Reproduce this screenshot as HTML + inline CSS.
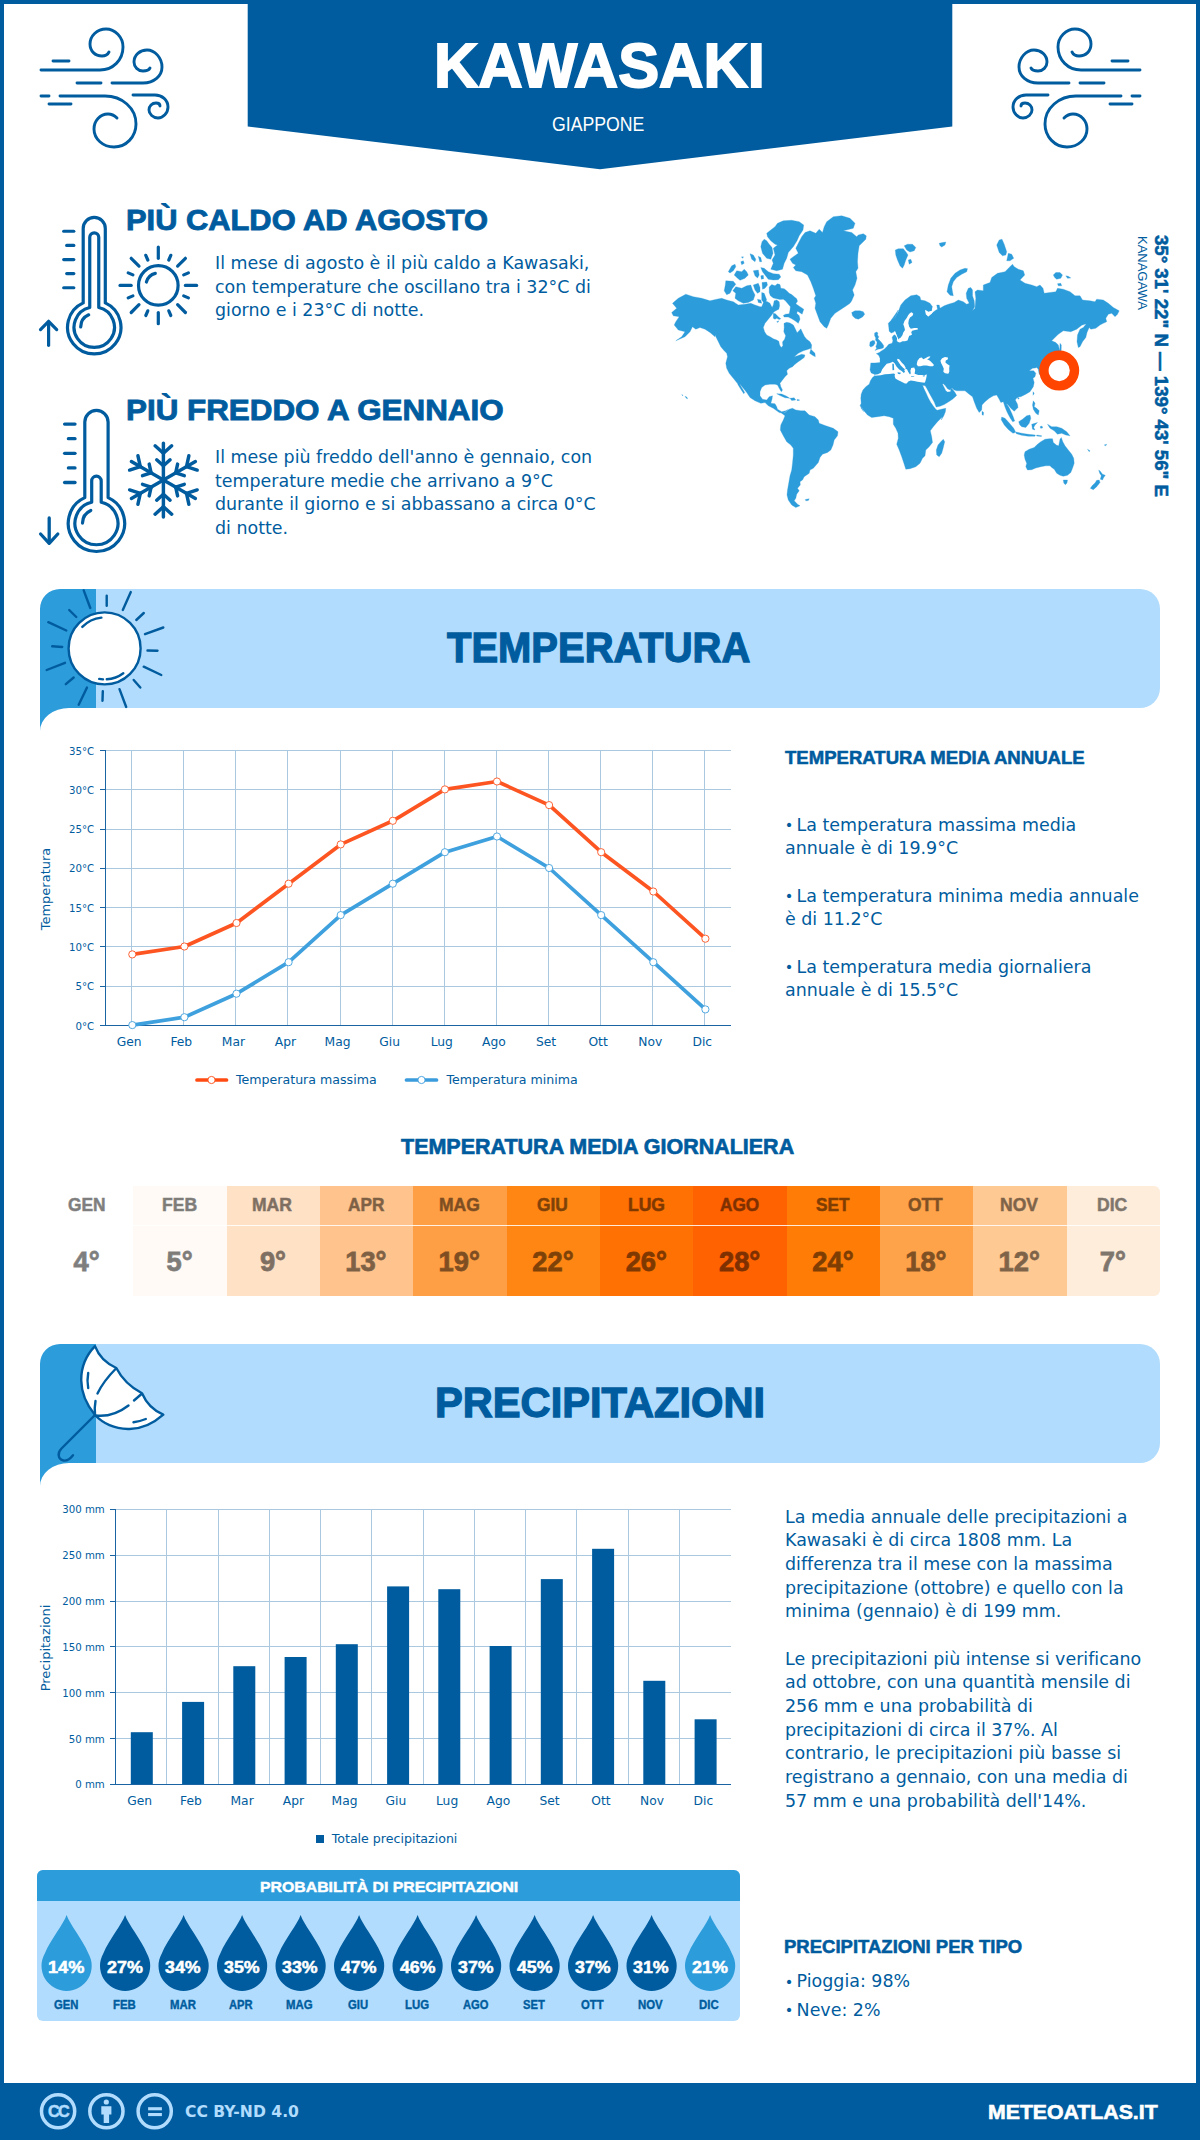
<!DOCTYPE html>
<html lang="it">
<head>
<meta charset="utf-8">
<title>Kawasaki - Meteo Atlas</title>
<style>
html,body{margin:0;padding:0;background:#fff;}
body{width:1200px;height:2140px;position:relative;overflow:hidden;font-family:"Liberation Sans","DejaVu Sans",sans-serif;color:#005c9e;}
#page{position:absolute;left:0;top:0;width:1200px;height:2140px;overflow:hidden;background:#fff;}
.abs{position:absolute;}
.bL{position:absolute;left:0;top:0;width:4px;height:2140px;background:#005c9e;}
.bR{position:absolute;left:1196px;top:0;width:4px;height:2140px;background:#005c9e;}
.bT{position:absolute;left:0;top:0;width:1200px;height:4px;background:#005c9e;}
.t{position:absolute;white-space:nowrap;line-height:1;}
.b{font-weight:bold;}
.body{position:absolute;white-space:nowrap;font-family:"DejaVu Sans","Liberation Sans",sans-serif;font-size:17.4px;line-height:23.67px;color:#005c9e;font-variant-ligatures:none;}
.h2{position:absolute;white-space:nowrap;font-weight:bold;line-height:1;color:#005c9e;}
.bu{display:inline-block;width:11.6px;font-size:14.5px;line-height:1;position:relative;top:-0.7px;left:-0.3px;}
svg{position:absolute;overflow:visible;}
.ax{font-family:"DejaVu Sans","Liberation Sans",sans-serif;fill:#005c9e;}
</style>
</head>
<body>
<div id="page">
<div class="bL"></div><div class="bR"></div><div class="bT"></div>

<svg class="abs" style="left:0;top:0" width="1200" height="180" viewBox="0 0 1200 180">
<polygon points="247.7,0 952.3,0 952.3,126.4 600,169.2 247.7,126.4" fill="#005c9e"/>
</svg>

<div class="t" id="title" style="left:434.09px;top:34.40px;font-size:63.03px;font-weight:bold;font-family:'Liberation Sans','DejaVu Sans',sans-serif;color:#fff;transform-origin:0 0;transform:scaleX(0.9742);-webkit-text-stroke:1.89px #fff;">KAWASAKI</div>
<div class="t" id="country" style="left:552.22px;top:115.12px;font-size:19.35px;font-weight:normal;font-family:'Liberation Sans','DejaVu Sans',sans-serif;color:#fff;transform-origin:0 0;transform:scaleX(0.9137);">GIAPPONE</div>

<svg class="abs" style="left:0;top:0" width="200" height="180" viewBox="0 0 200 180"><g fill="none" stroke="#005c9e" stroke-width="2.9" stroke-linecap="round" stroke-linejoin="round">
<path d="M41,70 H100 C113,70 123,60 123,47 C123,37 115,29 106,29 C97,29 90,36 90,44 C90,51 95,56 102,56 C105,56 108,54 109,52"/>
<path d="M53,61 H69"/>
<path d="M112,83 H143 C154,83 162,76 162,67 C162,58 155,50 147,50 C140,50 134,55 134,62 C134,67 138,71 143,71 C146,71 149,70 150,68"/>
<path d="M77,83 H101"/>
<path d="M60,96 H105 C122,96 136,108 136,124 C136,137 126,147 114,147 C103,147 94,139 94,129 C94,121 100,114 108,114 C112,114 115,116 117,118"/>
<path d="M41,96 H49"/>
<path d="M49,104 H71"/>
<path d="M133,95 H155 C162,95 168,100 168,107 C168,113 163,118 158,118 C153,118 149,114 149,110 C149,106 152,103 156,103 C158,103 160,104 160,106"/>
</g></svg>
<svg class="abs" style="left:0;top:0" width="1200" height="180" viewBox="0 0 1200 180"><g transform="translate(1181,0) scale(-1,1)"><g fill="none" stroke="#005c9e" stroke-width="2.9" stroke-linecap="round" stroke-linejoin="round">
<path d="M41,70 H100 C113,70 123,60 123,47 C123,37 115,29 106,29 C97,29 90,36 90,44 C90,51 95,56 102,56 C105,56 108,54 109,52"/>
<path d="M53,61 H69"/>
<path d="M112,83 H143 C154,83 162,76 162,67 C162,58 155,50 147,50 C140,50 134,55 134,62 C134,67 138,71 143,71 C146,71 149,70 150,68"/>
<path d="M77,83 H101"/>
<path d="M60,96 H105 C122,96 136,108 136,124 C136,137 126,147 114,147 C103,147 94,139 94,129 C94,121 100,114 108,114 C112,114 115,116 117,118"/>
<path d="M41,96 H49"/>
<path d="M49,104 H71"/>
<path d="M133,95 H155 C162,95 168,100 168,107 C168,113 163,118 158,118 C153,118 149,114 149,110 C149,106 152,103 156,103 C158,103 160,104 160,106"/>
</g></g></svg>
<svg class="abs" style="left:0;top:180px" width="640" height="400" viewBox="0 180 640 400"><g fill="none" stroke="#005c9e" stroke-width="3.2" stroke-linecap="round" stroke-linejoin="round"><path d="M83.20,302.9 V228.45 A11.05,11.05 0 0 1 105.30,228.45 V302.9 A26.7,26.7 0 1 1 83.20,302.9 Z"/><path d="M89.75,307.5 V237.30 A4.5,4.5 0 0 1 98.75,237.30 V307.5 A20.2,20.2 0 1 1 89.75,307.5 Z"/><path d="M80.7,327.0 A13.6,13.6 0 0 1 88.7,314.8"/></g><g stroke="#005c9e" stroke-width="3.2" stroke-linecap="round"><path d="M63.7,231.25 H73.8"/><path d="M66.7,245.4 H73.8"/><path d="M63.7,259.6 H73.8"/><path d="M66.7,273.6 H73.8"/><path d="M63.7,287.75 H73.8"/><path d="M48.6,345.3 V322" fill="none"/><path d="M40.5,329.6 L48.6,321.3 L56.7,329.6" fill="none" stroke-linejoin="round"/></g><g fill="none" stroke="#005c9e" stroke-width="3.2" stroke-linecap="round"><circle cx="158.3" cy="285.4" r="19.8"/><path d="M185.4,285.4 L196.6,285.4"/><path d="M183.7,295.9 L188.4,297.9"/><path d="M177.6,304.7 L185.4,312.5"/><path d="M168.8,310.8 L170.8,315.5"/><path d="M158.3,312.5 L158.3,323.7"/><path d="M147.8,310.8 L145.8,315.5"/><path d="M139.0,304.7 L131.2,312.5"/><path d="M132.9,295.9 L128.2,297.9"/><path d="M131.2,285.4 L120.0,285.4"/><path d="M132.9,274.9 L128.2,272.9"/><path d="M139.0,266.1 L131.2,258.3"/><path d="M147.8,260.0 L145.8,255.3"/><path d="M158.3,258.3 L158.3,247.1"/><path d="M168.8,260.0 L170.8,255.3"/><path d="M177.6,266.1 L185.4,258.3"/><path d="M183.7,274.9 L188.4,272.9"/><path d="M146.4,282.0 A12.4,12.4 0 0 1 155.3,273.4"/></g><g fill="none" stroke="#005c9e" stroke-width="3.2" stroke-linecap="round" stroke-linejoin="round"><path d="M84.80,497.6 V422.05 A11.65,11.65 0 0 1 108.10,422.05 V497.6 A28.2,28.2 0 1 1 84.80,497.6 Z"/><path d="M91.70,502.3 V480.95 A4.75,4.75 0 0 1 101.20,480.95 V502.3 A21.5,21.5 0 1 1 91.70,502.3 Z"/><path d="M82.5,523.1 A14,14 0 0 1 90.8,510.5"/></g><g stroke="#005c9e" stroke-width="3.3" stroke-linecap="round"><path d="M64.6,424.1 H75"/><path d="M68.4,438.7 H75"/><path d="M64.6,453.3 H75"/><path d="M68.4,467.9 H75"/><path d="M64.6,482.5 H75"/><path d="M49.2,518 V542.5" fill="none"/><path d="M40.6,534 L49.2,543.3 L57.8,534" fill="none" stroke-linejoin="round"/></g><g fill="none" stroke="#005c9e" stroke-width="3.45" stroke-linecap="round" stroke-linejoin="round"><path d="M163.4,480 L163.4,443.1"/><path d="M163.4,465.8 L170.1,459.8"/><path d="M163.4,465.8 L156.7,459.8"/><path d="M163.4,453.3 L171.7,445.8"/><path d="M163.4,453.3 L155.1,445.8"/><path d="M163.4,480 L131.4,461.6"/><path d="M151.1,472.9 L149.2,464.1"/><path d="M151.1,472.9 L142.5,475.7"/><path d="M140.3,466.6 L137.9,455.7"/><path d="M140.3,466.6 L129.6,470.1"/><path d="M163.4,480 L131.4,498.4"/><path d="M151.1,487.1 L142.5,484.3"/><path d="M151.1,487.1 L149.2,495.9"/><path d="M140.3,493.4 L129.6,489.9"/><path d="M140.3,493.4 L137.9,504.3"/><path d="M163.4,480 L163.4,516.9"/><path d="M163.4,494.2 L156.7,500.2"/><path d="M163.4,494.2 L170.1,500.2"/><path d="M163.4,506.7 L155.1,514.2"/><path d="M163.4,506.7 L171.7,514.2"/><path d="M163.4,480 L195.4,498.5"/><path d="M175.7,487.1 L177.6,495.9"/><path d="M175.7,487.1 L184.3,484.3"/><path d="M186.5,493.4 L188.9,504.3"/><path d="M186.5,493.4 L197.2,489.9"/><path d="M163.4,480 L195.4,461.6"/><path d="M175.7,472.9 L184.3,475.7"/><path d="M175.7,472.9 L177.6,464.1"/><path d="M186.5,466.6 L197.2,470.1"/><path d="M186.5,466.6 L188.9,455.7"/></g></svg>
<div class="t" id="hot_t" style="left:126.11px;top:206.28px;font-size:28.92px;font-weight:bold;font-family:'Liberation Sans','DejaVu Sans',sans-serif;color:#005c9e;transform-origin:0 0;transform:scaleX(1.0669);-webkit-text-stroke:0.87px #005c9e;">PIÙ CALDO AD AGOSTO</div>
<div class="body" id="hot_b" style="left:215px;top:251.93px;font-size:17.45px;line-height:23.67px;">Il mese di agosto è il più caldo a Kawasaki,<br>con temperature che oscillano tra i 32°C di<br>giorno e i 23°C di notte.</div>
<div class="t" id="cold_t" style="left:126.09px;top:396.08px;font-size:28.92px;font-weight:bold;font-family:'Liberation Sans','DejaVu Sans',sans-serif;color:#005c9e;transform-origin:0 0;transform:scaleX(1.0851);-webkit-text-stroke:0.87px #005c9e;">PIÙ FREDDO A GENNAIO</div>
<div class="body" id="cold_b" style="left:215px;top:445.93px;font-size:17.45px;line-height:23.67px;">Il mese più freddo dell'anno è gennaio, con<br>temperature medie che arrivano a 9°C<br>durante il giorno e si abbassano a circa 0°C<br>di notte.</div>
<svg class="abs" id="map" style="left:640px;top:190px" width="560" height="350" viewBox="640 190 560 350"><path fill="#2d9cdb" stroke="#2d9cdb" stroke-width="0.3" stroke-linejoin="round" d="M672.5,303.3 L678.3,298.3 L685.8,294.2 L693.3,296.7 L701.7,298.3 L710.0,300.8 L716.7,299.2 L721.7,298.3 L726.7,300.0 L733.3,301.7 L738.3,305.0 L745.0,304.2 L750.8,303.3 L755.0,305.0 L760.0,306.7 L761.7,306.7 L764.2,300.8 L767.5,301.7 L770.0,303.3 L772.1,307.5 L773.3,305.0 L774.2,300.8 L776.7,300.0 L779.2,301.7 L779.6,305.8 L778.8,309.2 L775.8,310.8 L773.8,312.1 L771.2,315.8 L768.3,319.2 L765.0,323.3 L763.3,327.5 L764.6,331.7 L766.7,335.0 L770.0,336.7 L773.3,338.8 L776.7,340.0 L778.8,341.2 L779.6,345.0 L781.2,347.5 L782.9,345.8 L782.5,342.1 L784.6,339.2 L785.7,335.8 L783.8,331.7 L784.2,327.5 L784.0,323.3 L786.7,322.3 L790.0,322.9 L793.3,325.0 L795.0,328.3 L797.1,332.7 L799.3,330.4 L800.8,328.8 L802.5,332.5 L804.6,336.7 L806.7,339.2 L810.0,341.7 L811.7,345.0 L811.2,349.2 L810.8,348.3 L808.3,349.2 L803.3,350.8 L798.3,353.3 L794.2,356.7 L797.5,355.8 L801.7,354.2 L805.0,355.0 L804.2,357.5 L800.8,360.0 L798.3,361.7 L795.0,364.2 L792.5,366.7 L789.2,368.3 L786.7,370.8 L787.5,374.2 L785.0,376.7 L782.5,380.0 L780.0,383.3 L780.8,386.7 L782.5,390.0 L781.3,391.7 L779.2,388.3 L777.5,385.0 L775.0,384.2 L770.0,384.2 L765.0,385.0 L761.7,387.5 L760.0,391.7 L760.0,395.8 L762.5,399.2 L766.7,400.0 L769.2,396.7 L772.5,395.8 L772.0,399.2 L770.8,403.3 L775.0,403.7 L776.7,406.7 L777.5,409.2 L781.7,411.7 L785.8,410.8 L788.3,409.5 L785.0,412.0 L782.5,413.3 L779.2,412.5 L776.7,410.8 L773.3,408.3 L768.3,405.8 L765.0,402.5 L760.8,403.3 L755.0,400.8 L750.0,397.5 L746.7,392.5 L743.3,388.3 L740.0,384.2 L736.7,382.5 L733.3,378.3 L729.2,373.3 L726.7,368.3 L725.8,363.3 L727.5,356.7 L726.7,353.3 L724.2,350.8 L720.8,346.7 L717.5,340.0 L715.0,335.0 L715.0,336.7 L710.0,332.5 L705.0,329.2 L700.0,327.5 L695.8,329.2 L692.5,326.7 L690.0,331.7 L685.0,336.7 L675.8,340.8 L681.7,336.7 L685.0,331.7 L678.3,330.0 L674.2,325.0 L675.8,321.7 L679.2,316.7 L673.3,315.8 L671.7,312.5 L676.7,308.3Z M737.0,382.0 L738.7,382.5 L741.7,387.5 L744.7,392.5 L743.8,393.7 L740.8,389.2 L738.0,384.7Z M810.8,349.2 L815.0,353.3 L815.3,356.7 L812.5,355.3 L809.7,353.3Z M776.7,393.7 L781.7,394.0 L786.7,396.3 L789.7,398.3 L785.0,397.7 L780.0,395.5Z M790.0,398.3 L794.2,397.8 L795.7,400.0 L791.7,400.5Z M797.0,399.5 L799.3,399.7 L799.3,400.5 L797.0,400.5Z M685.0,396.3 L686.7,397.0 L687.7,398.7 L686.3,398.3Z M681.7,394.7 L683.0,395.0 L682.7,395.7Z M777.5,223.3 L783.3,220.8 L791.7,220.3 L799.2,221.7 L803.7,225.0 L803.0,230.0 L799.2,235.8 L797.0,240.8 L793.3,246.7 L788.3,252.5 L786.7,258.3 L784.2,263.3 L782.5,269.2 L776.7,270.8 L770.8,269.2 L773.3,263.3 L772.0,260.0 L775.0,255.0 L773.3,248.3 L777.5,245.0 L775.0,244.2 L770.8,240.8 L767.5,236.7 L766.7,233.3 L770.8,230.0 L775.0,226.7Z M764.2,239.2 L766.7,240.8 L769.2,244.2 L772.0,247.5 L773.0,253.3 L770.8,259.2 L766.7,258.3 L762.5,253.3 L760.8,246.7 L762.0,241.7Z M760.8,267.5 L764.2,268.3 L768.3,271.7 L773.3,273.7 L779.2,274.2 L780.8,277.0 L778.3,279.7 L773.3,280.0 L768.3,279.2 L765.0,275.0 L762.5,271.7Z M728.3,271.7 L731.7,265.8 L735.0,264.2 L735.8,266.7 L733.3,270.8 L730.0,273.0Z M734.2,275.0 L736.7,270.8 L741.7,271.7 L744.2,269.2 L746.7,271.7 L748.3,275.0 L745.0,278.3 L740.0,280.3 L736.7,277.5Z M740.8,261.7 L743.3,260.8 L744.2,263.3 L741.7,264.7Z M741.3,257.0 L743.3,256.7 L743.0,258.3Z M750.0,253.7 L753.3,255.0 L755.8,259.2 L755.0,261.7 L751.7,259.2Z M758.3,256.3 L760.8,257.5 L761.7,261.7 L759.7,261.7Z M753.3,270.8 L758.3,270.0 L759.2,275.0 L757.5,278.0 L755.0,275.8Z M760.8,275.8 L763.3,275.3 L763.7,278.7 L761.3,279.2Z M725.8,280.8 L733.3,281.3 L735.8,284.2 L732.5,288.3 L730.0,293.3 L726.7,294.7 L724.2,290.8 L725.3,285.0Z M735.8,286.7 L741.7,288.3 L746.7,285.8 L750.8,285.0 L752.5,290.0 L755.0,295.0 L753.3,300.0 L748.3,302.5 L743.3,303.3 L738.3,300.8 L735.0,298.3 L735.8,293.3 L732.8,290.8Z M753.3,285.0 L758.3,283.3 L760.0,287.5 L760.0,291.7 L757.5,293.3 L755.0,290.0Z M762.0,282.5 L766.7,282.0 L767.5,285.0 L765.0,288.3 L762.5,289.2Z M761.7,292.5 L764.2,293.3 L766.7,300.0 L764.2,303.3 L761.7,300.0Z M757.5,299.2 L760.8,300.0 L761.7,303.3 L758.3,302.5Z M769.2,287.1 L771.7,284.6 L775.0,285.8 L777.5,283.8 L780.0,284.6 L780.8,288.3 L784.2,288.8 L786.7,290.8 L789.2,293.3 L791.7,294.6 L794.2,296.7 L796.7,298.8 L797.5,301.2 L795.8,303.8 L800.0,306.7 L803.8,309.2 L802.1,314.2 L799.6,312.5 L797.5,311.2 L796.7,313.3 L799.2,315.8 L800.0,319.2 L798.3,323.3 L795.0,320.8 L791.7,318.8 L788.3,317.1 L784.2,317.1 L783.3,315.4 L785.4,314.2 L789.2,313.8 L790.0,310.0 L790.4,306.7 L788.3,304.2 L785.4,300.8 L783.3,299.2 L780.0,299.6 L776.7,298.8 L773.3,297.9 L770.4,295.8 L769.2,292.5Z M773.3,313.3 L775.4,313.8 L778.3,316.7 L780.8,318.8 L779.2,319.6 L776.7,318.3 L775.0,319.2 L773.3,318.3Z M776.7,321.7 L778.8,320.8 L777.9,322.5Z M801.7,236.7 L805.0,232.5 L810.0,230.8 L815.8,233.3 L819.2,229.2 L822.5,232.5 L824.2,226.7 L826.7,221.7 L833.3,216.7 L841.7,215.8 L850.0,218.3 L855.0,223.3 L853.3,228.3 L843.3,230.8 L851.7,232.5 L856.7,236.7 L858.3,235.0 L863.3,233.7 L866.3,235.8 L865.8,239.2 L862.5,242.5 L859.2,245.8 L858.0,253.3 L857.5,261.7 L858.0,268.3 L855.8,271.7 L857.0,278.3 L855.0,285.0 L852.5,290.0 L854.2,295.0 L851.7,300.8 L850.0,303.3 L845.0,306.7 L840.0,310.0 L835.0,313.3 L830.8,318.3 L828.3,325.0 L826.7,328.3 L824.2,326.7 L820.0,321.7 L817.5,315.0 L815.0,308.3 L815.8,303.3 L814.2,298.3 L815.8,295.8 L813.3,288.3 L810.8,281.7 L807.5,275.0 L801.7,271.7 L795.8,270.8 L793.3,267.5 L795.8,265.0 L792.5,263.3 L790.0,259.2 L793.3,256.7 L798.3,253.3 L795.8,248.3 L798.3,243.3Z M851.7,312.5 L855.0,310.8 L860.0,310.8 L863.3,311.7 L864.7,314.2 L862.5,317.0 L858.3,319.2 L855.0,318.3 L852.5,315.8Z M895.3,250.0 L898.3,248.7 L903.3,248.7 L905.8,251.7 L908.0,255.0 L905.8,260.0 L904.2,265.0 L902.5,268.3 L900.0,265.8 L897.5,260.0 L895.8,255.0Z M904.2,245.8 L907.5,244.2 L912.5,244.2 L915.8,247.5 L914.2,250.8 L910.0,252.0 L906.7,250.0Z M908.3,260.0 L910.8,259.2 L912.0,262.5 L909.2,264.2Z M939.2,243.3 L942.5,242.5 L945.8,242.0 L945.0,245.0 L941.7,247.0 L940.0,245.8Z M965.0,268.3 L967.5,268.7 L966.7,271.7 L961.7,274.2 L956.7,277.5 L953.3,281.7 L951.7,286.7 L952.5,291.7 L953.3,295.8 L950.0,295.3 L947.0,291.7 L948.3,285.0 L950.8,278.3 L955.0,273.3 L960.0,270.0Z M996.7,245.0 L999.2,240.0 L1002.0,239.2 L1004.2,244.2 L1006.7,251.7 L1005.8,255.0 L1002.5,255.8 L999.2,252.5Z M1008.3,253.3 L1011.7,254.2 L1013.7,258.3 L1010.0,260.8 L1006.7,260.8Z M1053.3,275.0 L1055.8,272.5 L1060.0,272.5 L1062.5,275.0 L1060.8,278.3 L1056.7,279.2 L1054.7,277.5Z M1065.8,275.8 L1068.3,276.3 L1070.8,278.0 L1067.5,278.3Z M1057.5,283.7 L1060.8,283.3 L1061.7,285.8 L1058.3,285.8Z M781.7,413.3 L785.0,412.5 L789.2,409.2 L792.5,408.3 L795.8,410.0 L800.8,410.8 L805.0,410.8 L809.2,415.0 L815.0,416.7 L818.3,420.0 L819.2,423.3 L825.8,425.8 L833.3,428.3 L838.0,431.7 L837.5,435.8 L834.2,440.0 L833.0,445.0 L830.8,450.0 L827.5,452.5 L822.5,454.2 L820.0,457.5 L818.3,462.5 L813.3,468.3 L810.0,470.0 L809.2,473.3 L804.2,476.7 L802.5,480.0 L800.0,481.7 L800.3,485.0 L797.5,488.3 L799.2,490.8 L796.7,494.2 L795.8,498.3 L794.2,500.8 L797.5,504.2 L800.0,505.8 L795.8,507.5 L791.7,505.0 L788.3,500.0 L787.0,495.0 L787.5,490.0 L788.7,483.3 L790.0,475.8 L791.7,470.0 L792.5,463.3 L793.3,455.0 L793.3,448.3 L790.8,445.0 L786.7,441.7 L783.3,435.8 L780.3,430.0 L780.8,425.0 L783.3,420.0 L785.0,415.8Z M805.3,499.5 L809.2,498.8 L808.3,500.5 L805.8,500.8Z M874.3,374.3 L871.2,372.9 L870.0,370.0 L870.4,366.7 L870.8,362.9 L875.0,362.9 L880.0,362.5 L880.0,358.3 L878.8,355.4 L876.7,353.8 L876.2,353.8 L879.2,352.5 L881.7,350.8 L884.2,349.2 L886.7,346.7 L888.8,344.2 L892.1,343.3 L892.9,340.8 L892.1,337.5 L893.3,335.4 L895.0,334.8 L896.7,337.1 L897.1,338.8 L896.7,340.8 L898.2,339.2 L897.1,336.7 L895.8,333.3 L895.0,330.7 L893.3,332.3 L891.2,333.1 L889.2,331.2 L888.8,327.5 L888.3,323.3 L890.8,320.8 L894.2,318.3 L896.7,314.2 L898.3,310.0 L890.8,320.8 L895.0,317.5 L898.3,311.7 L900.8,305.0 L905.0,300.0 L910.8,295.8 L916.7,294.7 L920.0,296.7 L920.8,300.0 L925.0,300.8 L930.0,303.3 L932.5,306.7 L931.7,310.8 L928.3,311.7 L925.0,310.0 L925.8,314.2 L928.3,316.7 L931.7,313.3 L935.0,310.8 L937.5,309.2 L936.7,305.0 L939.2,305.0 L940.0,308.3 L944.2,305.8 L948.3,304.2 L954.2,302.5 L958.3,300.0 L963.3,301.7 L966.7,304.2 L969.2,303.3 L966.7,298.3 L966.2,293.3 L968.3,288.3 L970.8,287.5 L972.5,290.0 L972.5,295.8 L974.2,300.8 L974.7,306.7 L972.5,310.8 L975.0,308.3 L975.8,298.3 L975.0,291.7 L977.5,290.0 L983.3,290.8 L983.3,285.0 L990.0,282.5 L991.7,277.5 L997.5,273.3 L1005.0,271.7 L1009.2,267.5 L1012.5,264.2 L1014.2,266.7 L1018.3,269.2 L1023.3,270.8 L1024.7,275.0 L1020.0,280.0 L1025.0,283.3 L1031.7,285.0 L1036.7,286.7 L1040.0,285.0 L1043.0,288.3 L1044.2,293.3 L1050.0,292.5 L1055.8,291.7 L1057.5,288.3 L1063.3,289.2 L1070.0,291.7 L1075.0,295.8 L1080.0,295.8 L1082.5,300.0 L1090.0,300.8 L1095.0,301.7 L1096.7,299.2 L1103.3,300.0 L1108.3,303.3 L1113.3,307.5 L1119.2,310.8 L1117.5,314.2 L1115.0,316.7 L1111.7,313.3 L1108.3,314.2 L1105.8,318.3 L1106.7,321.7 L1103.3,323.3 L1100.0,325.0 L1095.8,328.3 L1090.8,329.2 L1089.2,327.5 L1087.0,332.5 L1085.8,337.5 L1082.5,341.7 L1080.0,346.7 L1078.3,347.5 L1077.0,341.7 L1077.5,335.0 L1080.0,329.2 L1083.3,327.5 L1086.3,323.7 L1081.7,325.3 L1076.7,329.2 L1070.8,331.7 L1063.3,330.8 L1058.3,334.2 L1054.2,338.3 L1051.7,340.8 L1055.8,342.5 L1058.3,345.0 L1059.7,350.8 L1057.5,355.8 L1053.3,359.2 L1048.3,361.7 L1045.8,365.8 L1044.2,370.0 L1042.5,375.0 L1039.2,374.2 L1038.3,369.2 L1036.7,367.5 L1035.0,368.0 L1032.5,368.3 L1029.2,370.8 L1033.7,370.8 L1035.8,373.3 L1035.0,376.7 L1033.0,378.3 L1034.2,382.5 L1033.3,386.7 L1030.0,391.7 L1025.8,394.2 L1020.8,396.7 L1017.5,397.0 L1015.3,400.0 L1017.5,404.2 L1018.0,407.5 L1014.2,411.3 L1010.8,408.3 L1008.3,405.0 L1005.0,402.5 L1005.8,403.0 L1008.0,405.7 L1009.8,409.0 L1011.5,412.7 L1013.2,416.8 L1014.7,421.0 L1012.7,421.7 L1010.5,418.5 L1008.3,414.5 L1006.7,411.2 L1005.0,407.0 L1003.3,401.7 L1000.8,402.5 L999.2,399.2 L996.7,395.0 L993.3,395.8 L989.2,398.3 L985.0,401.7 L982.0,405.0 L981.7,410.0 L979.2,412.5 L976.7,408.3 L974.2,401.7 L972.5,396.7 L969.2,394.2 L965.0,390.8 L956.7,390.8 L954.2,390.0 L952.1,388.3 L950.0,390.0 L947.5,388.8 L945.4,385.8 L943.3,383.8 L942.5,384.2 L944.2,387.5 L945.8,390.8 L947.5,392.1 L950.4,391.7 L951.2,388.8 L952.5,389.2 L955.0,392.5 L956.7,395.4 L952.5,399.2 L948.3,402.1 L944.2,404.6 L940.0,406.2 L936.2,407.1 L934.2,402.1 L931.7,397.5 L929.2,392.9 L926.7,388.3 L925.0,385.4 L924.2,385.8 L922.5,385.0 L923.8,388.3 L926.2,393.3 L928.3,397.9 L930.8,402.5 L933.8,406.7 L936.0,409.6 L937.1,410.2 L943.3,408.8 L945.8,408.3 L945.4,411.7 L943.8,415.8 L941.2,420.0 L942.5,416.7 L937.5,421.7 L933.3,426.7 L930.3,430.8 L931.7,436.7 L932.5,442.5 L929.2,446.7 L925.8,450.0 L925.0,455.8 L922.5,458.3 L920.0,463.3 L915.8,466.7 L910.0,468.7 L905.8,469.2 L904.2,464.2 L901.7,456.7 L899.2,450.0 L896.7,444.2 L898.3,438.3 L898.0,433.3 L895.8,428.3 L893.3,424.2 L893.3,418.3 L889.2,416.7 L884.2,415.8 L877.5,416.7 L871.7,417.5 L867.5,415.0 L863.3,410.0 L860.0,405.0 L863.8,411.7 L861.2,408.3 L860.4,405.0 L861.2,403.3 L860.8,398.3 L861.2,394.2 L862.9,390.0 L865.8,386.7 L869.2,384.2 L870.4,380.8 L872.5,377.5 L875.0,375.4Z M874.6,332.9 L876.7,332.1 L877.9,332.9 L877.5,335.0 L878.8,336.7 L877.9,338.8 L880.0,340.8 L882.1,343.3 L883.8,345.8 L883.3,347.9 L880.8,348.8 L877.9,349.2 L875.0,350.4 L876.7,348.3 L875.8,346.7 L876.7,344.6 L877.1,342.1 L875.4,340.0 L875.8,337.9 L874.6,335.8Z M870.0,342.1 L872.5,340.4 L874.6,340.8 L875.0,343.3 L873.3,345.8 L870.8,347.1 L869.6,345.8Z M943.3,439.2 L944.7,441.7 L943.3,447.5 L941.7,453.3 L939.2,456.7 L936.7,455.0 L936.3,450.0 L938.0,445.0 L940.8,441.7Z M982.0,411.3 L983.7,412.5 L983.3,415.3 L982.0,414.7Z M1060.0,343.3 L1061.3,345.0 L1061.2,350.8 L1059.7,351.7Z M1033.3,400.8 L1035.0,403.3 L1034.2,406.7 L1036.7,408.3 L1039.2,410.8 L1038.3,415.0 L1035.8,413.3 L1033.3,409.2 L1032.5,405.0Z M1033.0,391.7 L1034.2,393.3 L1033.0,395.3Z M1017.0,397.0 L1019.3,398.0 L1018.3,399.3Z M1018.7,421.7 L1022.5,419.2 L1026.7,415.8 L1030.0,415.0 L1030.8,418.3 L1029.2,423.3 L1025.8,427.5 L1021.7,426.7 L1019.7,424.7Z M1001.7,417.0 L1005.0,418.3 L1009.5,423.3 L1013.7,428.3 L1015.7,432.3 L1013.0,433.3 L1008.3,429.5 L1004.3,425.0 L1001.2,419.7Z M1015.8,432.0 L1021.7,433.2 L1028.3,434.3 L1035.3,435.0 L1035.0,436.2 L1028.3,436.3 L1021.7,435.3 L1016.3,433.7Z M1031.7,424.2 L1035.0,423.3 L1037.5,422.5 L1035.0,425.0 L1033.7,427.5 L1035.0,430.0 L1032.5,429.2Z M1047.5,424.2 L1051.7,426.7 L1056.7,426.7 L1061.7,428.3 L1066.7,431.7 L1070.0,435.8 L1065.8,435.0 L1061.7,433.3 L1057.5,434.2 L1054.2,430.8 L1050.0,428.3Z M1036.7,435.0 L1041.7,435.7 L1041.3,436.5 L1036.7,436.0Z M1040.0,426.7 L1042.0,426.0 L1042.7,428.0 L1040.7,428.3Z M1024.2,455.0 L1025.0,451.7 L1029.2,449.2 L1034.2,447.5 L1037.5,444.2 L1040.8,441.7 L1045.0,439.2 L1049.2,438.7 L1052.5,438.7 L1053.3,442.5 L1056.7,445.3 L1058.7,445.8 L1060.0,439.2 L1061.3,437.5 L1062.8,441.7 L1065.0,445.8 L1068.3,450.0 L1071.7,454.2 L1073.7,458.3 L1074.2,463.3 L1072.5,468.3 L1070.8,472.5 L1067.5,475.3 L1063.3,476.3 L1060.0,475.3 L1056.7,473.3 L1054.2,469.2 L1051.7,467.5 L1050.0,465.8 L1045.8,465.8 L1040.8,466.7 L1035.8,468.0 L1031.7,469.7 L1027.5,470.0 L1025.8,466.7 L1026.7,463.3 L1025.0,459.2Z M1063.3,480.0 L1067.5,480.0 L1067.0,483.0 L1065.3,484.7 L1063.8,483.0Z M1098.7,470.0 L1100.3,471.3 L1102.5,474.2 L1105.3,475.3 L1103.7,477.5 L1102.5,480.0 L1100.3,479.2 L1101.3,475.8 L1099.7,473.3Z M1096.7,480.3 L1099.2,480.0 L1100.0,482.5 L1096.7,486.7 L1093.3,489.7 L1090.3,488.3 L1092.5,485.3 L1095.0,483.0Z M1087.5,449.2 L1090.0,450.8 L1089.2,451.7Z M1104.2,445.0 L1106.7,444.2 L1105.8,445.8Z"/><path fill="#fff" d="M874.3,374.8 L877.9,374.3 L880.8,372.7 L882.1,369.6 L884.2,366.7 L886.7,363.8 L890.0,362.9 L892.9,361.7 L894.6,363.3 L896.7,366.7 L899.2,369.6 L901.7,371.0 L903.8,372.9 L905.0,371.8 L904.2,370.0 L905.7,368.8 L907.1,369.6 L908.3,372.1 L910.0,374.6 L910.8,373.3 L910.4,370.8 L911.2,367.9 L914.2,367.5 L915.2,370.0 L914.6,373.8 L918.3,375.0 L922.1,375.0 L924.2,375.8 L926.5,374.2 L926.7,375.8 L926.2,378.3 L925.4,381.2 L924.6,382.7 L920.8,382.2 L917.5,381.8 L914.2,381.0 L910.8,380.6 L908.3,381.4 L906.7,383.5 L905.0,383.5 L902.5,382.2 L900.0,381.0 L897.5,379.8 L895.4,378.5 L894.6,376.0 L895.0,373.9 L893.3,373.5 L889.2,373.9 L885.0,374.3 L880.8,375.2 L877.9,375.6 L875.4,375.8Z M897.5,358.8 L899.2,359.2 L901.7,362.5 L904.2,365.0 L905.8,367.9 L905.0,369.2 L903.3,367.9 L900.8,365.4 L898.8,362.5 L897.1,360.0Z M917.5,360.8 L919.6,357.9 L921.7,357.5 L923.3,359.2 L925.8,357.9 L927.9,356.7 L930.4,356.2 L929.2,358.3 L927.1,359.2 L930.0,360.8 L932.5,363.3 L934.0,365.0 L932.9,366.2 L930.0,366.2 L926.7,365.4 L923.3,365.4 L920.4,366.2 L917.9,366.2 L916.7,364.2Z M940.4,360.8 L942.1,358.3 L945.0,357.1 L947.9,357.5 L947.9,359.2 L945.8,360.4 L945.4,362.5 L947.5,364.2 L949.6,365.4 L949.2,367.9 L949.3,371.7 L948.3,373.8 L945.0,373.3 L943.3,371.7 L943.8,368.8 L942.5,365.8 L941.2,363.3Z M910.0,312.9 L911.7,312.3 L913.3,313.8 L912.5,315.8 L910.0,317.5 L908.8,320.0 L908.3,323.3 L909.2,326.7 L910.8,328.8 L914.2,327.9 L917.5,327.9 L917.9,329.6 L915.0,330.0 L912.1,330.8 L911.2,332.5 L912.1,334.6 L910.4,335.4 L909.2,335.8 L908.3,338.3 L907.5,340.4 L905.0,341.2 L902.5,341.2 L900.0,342.5 L897.9,342.1 L897.1,341.0 L898.5,339.0 L900.8,337.5 L902.5,335.0 L903.3,332.5 L905.0,330.0 L904.2,326.7 L903.3,324.2 L904.6,320.8 L906.7,317.9 L908.3,315.0Z M895.3,334.8 L896.7,337.1 L897.2,338.9 L896.8,340.7 L897.7,340.2 L898.2,338.8 L897.2,336.5 L896.1,333.7 L895.2,331.8 L893.8,332.5Z M925.3,309.7 L928.3,312.0 L932.0,311.0 L932.7,307.0 L934.2,310.0 L931.7,313.7 L928.3,316.3 L926.0,314.2Z"/><path fill="#2d9cdb" d="M892.3,363.8 L893.8,363.8 L894.2,370.0 L892.5,370.2Z M897.5,372.3 L901.0,372.7 L900.0,374.3 L897.9,373.8Z M911.2,376.3 L914.2,376.5 L914.2,377.0 L911.2,376.9Z M922.5,376.0 L924.6,375.7 L924.2,376.7Z"/><circle cx="1059.2" cy="370.6" r="15.3" fill="#fff" stroke="#ff4500" stroke-width="9.4"/></svg>
<div class="t" id="coords" style="left:1171.12px;top:235.41px;font-size:19.24px;font-weight:bold;font-family:'Liberation Sans','DejaVu Sans',sans-serif;-webkit-text-stroke:0.58px currentColor;transform-origin:0 0;transform:rotate(90deg) scaleX(0.9684);">35° 31' 22" N — 139° 43' 56" E</div>
<div class="t" id="region" style="left:1149.06px;top:235.66px;font-size:13.66px;font-weight:normal;font-family:'Liberation Sans','DejaVu Sans',sans-serif;transform-origin:0 0;transform:rotate(90deg) scaleX(0.9499);">KANAGAWA</div>
<svg class="abs" style="left:0;top:579px" width="1200" height="170" viewBox="0 579 1200 170"><path d="M90,589 H1140 A20,20 0 0 1 1160,609 V688 A20,20 0 0 1 1140,708 H90 Z" fill="#b1dcfd"/><path d="M40,731 V609 A20,20 0 0 1 60,589 H96 V708 H69 A29,23 0 0 0 40,731 Z" fill="#2d9cdb"/><g fill="none" stroke="#005c9e" stroke-width="2.4" stroke-linecap="round"><circle cx="104.6" cy="648.4" r="36" fill="#fff"/><path d="M83.7,590.3 L90.3,608"/><path d="M106.7,595.8 L106.7,605.8"/><path d="M130.8,592 L122.8,610"/><path d="M143.8,613 L136.3,620"/><path d="M163.3,627.5 L145,634.2"/><path d="M157.5,650.8 L147.5,650.5"/><path d="M161.3,675 L143.7,666.7"/><path d="M140.3,687.5 L133.7,680"/><path d="M126.2,707 L119.5,689.2"/><path d="M102.5,700.8 L102.8,691.3"/><path d="M78.7,704.7 L87,687.5"/><path d="M65.8,684.2 L73.7,677.5"/><path d="M46.7,670 L65,662.8"/><path d="M52.2,646.3 L62.2,647"/><path d="M48.3,622.2 L66.3,630.5"/><path d="M69.2,610 L76.3,617"/><path d="M82.3,626.9 A31,31 0 0 1 101.4,617.6"/><path d="M123.3,673.2 A31,31 0 0 1 106.8,679.3"/><path d="M103.0,679.4 A31,31 0 0 1 99.2,678.9"/></g></svg><div class="t" id="temp_title" style="left:446.95px;top:627.07px;font-size:42.29px;font-weight:bold;font-family:'Liberation Sans','DejaVu Sans',sans-serif;color:#005c9e;transform-origin:0 0;transform:scaleX(0.9449);-webkit-text-stroke:1.27px #005c9e;">TEMPERATURA</div>
<svg class="abs" style="left:0;top:735px" width="760" height="370" viewBox="0 735 760 370"><g stroke="#abc8e1" stroke-width="1" fill="none" shape-rendering="crispEdges"><path d="M105.5,986.5 H730.5"/><path d="M105.5,946.5 H730.5"/><path d="M105.5,907.5 H730.5"/><path d="M105.5,868.5 H730.5"/><path d="M105.5,829.5 H730.5"/><path d="M105.5,789.5 H730.5"/><path d="M105.5,750.5 H730.5"/><path d="M131.5,750.5 V1025.5"/><path d="M183.5,750.5 V1025.5"/><path d="M235.5,750.5 V1025.5"/><path d="M287.5,750.5 V1025.5"/><path d="M340.5,750.5 V1025.5"/><path d="M392.5,750.5 V1025.5"/><path d="M444.5,750.5 V1025.5"/><path d="M496.5,750.5 V1025.5"/><path d="M548.5,750.5 V1025.5"/><path d="M600.5,750.5 V1025.5"/><path d="M652.5,750.5 V1025.5"/><path d="M704.5,750.5 V1025.5"/></g><g stroke="#1b64a3" stroke-width="1" fill="none" shape-rendering="crispEdges"><path d="M105.5,750.0 V1025.5 H730.5"/><path d="M100.0,1025.5 H105.5"/><path d="M100.0,986.5 H105.5"/><path d="M100.0,946.5 H105.5"/><path d="M100.0,907.5 H105.5"/><path d="M100.0,868.5 H105.5"/><path d="M100.0,829.5 H105.5"/><path d="M100.0,789.5 H105.5"/><path d="M100.0,750.5 H105.5"/></g><polyline points="132.4,954.4 184.5,946.5 236.6,923.0 288.7,883.7 340.8,844.4 392.9,820.8 445.0,789.4 497.1,781.5 549.2,805.1 601.3,852.2 653.4,891.5 705.5,938.7" fill="none" stroke="#fd5521" stroke-width="3.7" stroke-linejoin="round" stroke-linecap="round"/><circle cx="132.3" cy="954.4" r="3.6" fill="#fff" stroke="#fd5521" stroke-width="0.9"/><circle cx="184.4" cy="946.5" r="3.6" fill="#fff" stroke="#fd5521" stroke-width="0.9"/><circle cx="236.5" cy="923.0" r="3.6" fill="#fff" stroke="#fd5521" stroke-width="0.9"/><circle cx="288.6" cy="883.7" r="3.6" fill="#fff" stroke="#fd5521" stroke-width="0.9"/><circle cx="340.7" cy="844.4" r="3.6" fill="#fff" stroke="#fd5521" stroke-width="0.9"/><circle cx="392.8" cy="820.8" r="3.6" fill="#fff" stroke="#fd5521" stroke-width="0.9"/><circle cx="444.9" cy="789.4" r="3.6" fill="#fff" stroke="#fd5521" stroke-width="0.9"/><circle cx="497.0" cy="781.5" r="3.6" fill="#fff" stroke="#fd5521" stroke-width="0.9"/><circle cx="549.1" cy="805.1" r="3.6" fill="#fff" stroke="#fd5521" stroke-width="0.9"/><circle cx="601.2" cy="852.2" r="3.6" fill="#fff" stroke="#fd5521" stroke-width="0.9"/><circle cx="653.3" cy="891.5" r="3.6" fill="#fff" stroke="#fd5521" stroke-width="0.9"/><circle cx="705.4" cy="938.7" r="3.6" fill="#fff" stroke="#fd5521" stroke-width="0.9"/><polyline points="132.4,1025.1 184.5,1017.2 236.6,993.7 288.7,962.2 340.8,915.1 392.9,883.7 445.0,852.2 497.1,836.5 549.2,868.0 601.3,915.1 653.4,962.2 705.5,1009.4" fill="none" stroke="#3fa0de" stroke-width="3.7" stroke-linejoin="round" stroke-linecap="round"/><circle cx="132.3" cy="1025.1" r="3.6" fill="#fff" stroke="#3fa0de" stroke-width="0.9"/><circle cx="184.4" cy="1017.2" r="3.6" fill="#fff" stroke="#3fa0de" stroke-width="0.9"/><circle cx="236.5" cy="993.7" r="3.6" fill="#fff" stroke="#3fa0de" stroke-width="0.9"/><circle cx="288.6" cy="962.2" r="3.6" fill="#fff" stroke="#3fa0de" stroke-width="0.9"/><circle cx="340.7" cy="915.1" r="3.6" fill="#fff" stroke="#3fa0de" stroke-width="0.9"/><circle cx="392.8" cy="883.7" r="3.6" fill="#fff" stroke="#3fa0de" stroke-width="0.9"/><circle cx="444.9" cy="852.2" r="3.6" fill="#fff" stroke="#3fa0de" stroke-width="0.9"/><circle cx="497.0" cy="836.5" r="3.6" fill="#fff" stroke="#3fa0de" stroke-width="0.9"/><circle cx="549.1" cy="868.0" r="3.6" fill="#fff" stroke="#3fa0de" stroke-width="0.9"/><circle cx="601.2" cy="915.1" r="3.6" fill="#fff" stroke="#3fa0de" stroke-width="0.9"/><circle cx="653.3" cy="962.2" r="3.6" fill="#fff" stroke="#3fa0de" stroke-width="0.9"/><circle cx="705.4" cy="1009.4" r="3.6" fill="#fff" stroke="#3fa0de" stroke-width="0.9"/><text class="ax" x="94.2" y="1029.5" font-size="10.2" text-anchor="end">0°C</text><text class="ax" x="94.2" y="990.2" font-size="10.2" text-anchor="end">5°C</text><text class="ax" x="94.2" y="950.9" font-size="10.2" text-anchor="end">10°C</text><text class="ax" x="94.2" y="911.6" font-size="10.2" text-anchor="end">15°C</text><text class="ax" x="94.2" y="872.4" font-size="10.2" text-anchor="end">20°C</text><text class="ax" x="94.2" y="833.1" font-size="10.2" text-anchor="end">25°C</text><text class="ax" x="94.2" y="793.8" font-size="10.2" text-anchor="end">30°C</text><text class="ax" x="94.2" y="754.5" font-size="10.2" text-anchor="end">35°C</text><text class="ax" x="129.2" y="1045.5" font-size="12.3" text-anchor="middle">Gen</text><text class="ax" x="181.3" y="1045.5" font-size="12.3" text-anchor="middle">Feb</text><text class="ax" x="233.4" y="1045.5" font-size="12.3" text-anchor="middle">Mar</text><text class="ax" x="285.5" y="1045.5" font-size="12.3" text-anchor="middle">Apr</text><text class="ax" x="337.6" y="1045.5" font-size="12.3" text-anchor="middle">Mag</text><text class="ax" x="389.7" y="1045.5" font-size="12.3" text-anchor="middle">Giu</text><text class="ax" x="441.8" y="1045.5" font-size="12.3" text-anchor="middle">Lug</text><text class="ax" x="493.9" y="1045.5" font-size="12.3" text-anchor="middle">Ago</text><text class="ax" x="546.0" y="1045.5" font-size="12.3" text-anchor="middle">Set</text><text class="ax" x="598.1" y="1045.5" font-size="12.3" text-anchor="middle">Ott</text><text class="ax" x="650.2" y="1045.5" font-size="12.3" text-anchor="middle">Nov</text><text class="ax" x="702.3" y="1045.5" font-size="12.3" text-anchor="middle">Dic</text><text class="ax" x="0" y="0" font-size="13" text-anchor="middle" transform="translate(49.8,889) rotate(-90)">Temperatura</text><path d="M197,1080 H226.5" stroke="#ff4b12" stroke-width="3.7" stroke-linecap="round"/><circle cx="211.5" cy="1080" r="3.6" fill="#fff" stroke="#ff4b12" stroke-width="0.9"/><text class="ax" x="236" y="1084.3" font-size="12.6">Temperatura massima</text><path d="M406.5,1080 H436.5" stroke="#3a9cdc" stroke-width="3.7" stroke-linecap="round"/><circle cx="421.5" cy="1080" r="3.6" fill="#fff" stroke="#3a9cdc" stroke-width="0.9"/><text class="ax" x="446.5" y="1084.3" font-size="12.6">Temperatura minima</text></svg>
<div class="t" id="tma" style="left:785.09px;top:747.55px;font-size:19.10px;font-weight:bold;font-family:'Liberation Sans','DejaVu Sans',sans-serif;color:#005c9e;transform-origin:0 0;transform:scaleX(0.9719);-webkit-text-stroke:0.57px #005c9e;">TEMPERATURA MEDIA ANNUALE</div>
<div class="body" id="tma_b" style="left:785px;top:813.73px;font-size:17.45px;line-height:23.67px;"><span class="bu">•</span>La temperatura massima media<br>annuale è di 19.9°C<br><br><span class="bu">•</span>La temperatura minima media annuale<br>è di 11.2°C<br><br><span class="bu">•</span>La temperatura media giornaliera<br>annuale è di 15.5°C</div>
<div class="t" id="tmg" style="left:401.11px;top:1136.57px;font-size:21.28px;font-weight:bold;font-family:'Liberation Sans','DejaVu Sans',sans-serif;color:#005c9e;transform-origin:0 0;transform:scaleX(1.0105);-webkit-text-stroke:0.64px #005c9e;">TEMPERATURA MEDIA GIORNALIERA</div>
<div class="abs" id="tbl" style="left:40px;top:1186px;width:1120px;height:110px;border-radius:0 6px 6px 0;overflow:hidden;"><div class="abs" style="left:0.00px;top:0;width:93.83px;height:110px;background:#ffffff;"></div><div class="abs" style="left:93.33px;top:0;width:93.83px;height:110px;background:#fffaf5;"></div><div class="abs" style="left:186.67px;top:0;width:93.83px;height:110px;background:#ffe1c6;"></div><div class="abs" style="left:280.00px;top:0;width:93.83px;height:110px;background:#ffc48d;"></div><div class="abs" style="left:373.33px;top:0;width:93.83px;height:110px;background:#ff9f45;"></div><div class="abs" style="left:466.67px;top:0;width:93.83px;height:110px;background:#ff8613;"></div><div class="abs" style="left:560.00px;top:0;width:93.83px;height:110px;background:#ff7102;"></div><div class="abs" style="left:653.33px;top:0;width:93.83px;height:110px;background:#ff6200;"></div><div class="abs" style="left:746.67px;top:0;width:93.83px;height:110px;background:#ff7c07;"></div><div class="abs" style="left:840.00px;top:0;width:93.83px;height:110px;background:#ffa34a;"></div><div class="abs" style="left:933.33px;top:0;width:93.83px;height:110px;background:#ffc994;"></div><div class="abs" style="left:1026.67px;top:0;width:93.83px;height:110px;background:#ffeddc;"></div><div class="abs" style="left:93.3px;top:39px;width:1027px;height:1.3px;background:rgba(255,255,255,0.85);"></div></div>
<div class="t" style="left:67.55px;top:1195.99px;font-size:18.01px;font-weight:bold;font-family:'Liberation Sans','DejaVu Sans',sans-serif;color:#000;transform-origin:0 0;transform:scaleX(0.9641);opacity:0.5;-webkit-text-stroke:0.54px #000;">GEN</div>
<div class="t" style="left:73.53px;top:1247.99px;font-size:27.29px;font-weight:bold;font-family:'Liberation Sans','DejaVu Sans',sans-serif;color:#000;opacity:0.5;-webkit-text-stroke:0.82px #000;">4°</div>
<div class="t" style="left:161.79px;top:1195.99px;font-size:18.01px;font-weight:bold;font-family:'Liberation Sans','DejaVu Sans',sans-serif;color:#000;transform-origin:0 0;transform:scaleX(0.9745);opacity:0.5;-webkit-text-stroke:0.54px #000;">FEB</div>
<div class="t" style="left:166.59px;top:1247.99px;font-size:27.29px;font-weight:bold;font-family:'Liberation Sans','DejaVu Sans',sans-serif;color:#000;opacity:0.5;-webkit-text-stroke:0.82px #000;">5°</div>
<div class="t" style="left:252.47px;top:1195.99px;font-size:18.01px;font-weight:bold;font-family:'Liberation Sans','DejaVu Sans',sans-serif;color:#000;transform-origin:0 0;transform:scaleX(0.9724);opacity:0.5;-webkit-text-stroke:0.54px #000;">MAR</div>
<div class="t" style="left:259.93px;top:1247.99px;font-size:27.29px;font-weight:bold;font-family:'Liberation Sans','DejaVu Sans',sans-serif;color:#000;opacity:0.5;-webkit-text-stroke:0.82px #000;">9°</div>
<div class="t" style="left:347.94px;top:1195.99px;font-size:18.01px;font-weight:bold;font-family:'Liberation Sans','DejaVu Sans',sans-serif;color:#000;transform-origin:0 0;transform:scaleX(0.9550);opacity:0.5;-webkit-text-stroke:0.54px #000;">APR</div>
<div class="t" style="left:345.26px;top:1247.99px;font-size:27.29px;font-weight:bold;font-family:'Liberation Sans','DejaVu Sans',sans-serif;color:#000;opacity:0.5;-webkit-text-stroke:0.82px #000;">13°</div>
<div class="t" style="left:439.05px;top:1195.99px;font-size:18.01px;font-weight:bold;font-family:'Liberation Sans','DejaVu Sans',sans-serif;color:#000;transform-origin:0 0;transform:scaleX(0.9724);opacity:0.5;-webkit-text-stroke:0.54px #000;">MAG</div>
<div class="t" style="left:438.60px;top:1247.99px;font-size:27.29px;font-weight:bold;font-family:'Liberation Sans','DejaVu Sans',sans-serif;color:#000;opacity:0.5;-webkit-text-stroke:0.82px #000;">19°</div>
<div class="t" style="left:537.49px;top:1195.99px;font-size:18.01px;font-weight:bold;font-family:'Liberation Sans','DejaVu Sans',sans-serif;color:#000;transform-origin:0 0;transform:scaleX(0.9652);opacity:0.5;-webkit-text-stroke:0.54px #000;">GIU</div>
<div class="t" style="left:532.34px;top:1247.99px;font-size:27.29px;font-weight:bold;font-family:'Liberation Sans','DejaVu Sans',sans-serif;color:#000;opacity:0.5;-webkit-text-stroke:0.82px #000;">22°</div>
<div class="t" style="left:627.64px;top:1195.99px;font-size:18.01px;font-weight:bold;font-family:'Liberation Sans','DejaVu Sans',sans-serif;color:#000;transform-origin:0 0;transform:scaleX(0.9738);opacity:0.5;-webkit-text-stroke:0.54px #000;">LUG</div>
<div class="t" style="left:625.67px;top:1247.99px;font-size:27.29px;font-weight:bold;font-family:'Liberation Sans','DejaVu Sans',sans-serif;color:#000;opacity:0.5;-webkit-text-stroke:0.82px #000;">26°</div>
<div class="t" style="left:720.06px;top:1195.99px;font-size:18.01px;font-weight:bold;font-family:'Liberation Sans','DejaVu Sans',sans-serif;color:#000;transform-origin:0 0;transform:scaleX(0.9553);opacity:0.5;-webkit-text-stroke:0.54px #000;">AGO</div>
<div class="t" style="left:719.00px;top:1247.99px;font-size:27.29px;font-weight:bold;font-family:'Liberation Sans','DejaVu Sans',sans-serif;color:#000;opacity:0.5;-webkit-text-stroke:0.82px #000;">28°</div>
<div class="t" style="left:815.95px;top:1195.99px;font-size:18.01px;font-weight:bold;font-family:'Liberation Sans','DejaVu Sans',sans-serif;color:#000;transform-origin:0 0;transform:scaleX(0.9547);opacity:0.5;-webkit-text-stroke:0.54px #000;">SET</div>
<div class="t" style="left:812.34px;top:1247.99px;font-size:27.29px;font-weight:bold;font-family:'Liberation Sans','DejaVu Sans',sans-serif;color:#000;opacity:0.5;-webkit-text-stroke:0.82px #000;">24°</div>
<div class="t" style="left:908.46px;top:1195.99px;font-size:18.01px;font-weight:bold;font-family:'Liberation Sans','DejaVu Sans',sans-serif;color:#000;transform-origin:0 0;transform:scaleX(0.9644);opacity:0.5;-webkit-text-stroke:0.54px #000;">OTT</div>
<div class="t" style="left:905.26px;top:1247.99px;font-size:27.29px;font-weight:bold;font-family:'Liberation Sans','DejaVu Sans',sans-serif;color:#000;opacity:0.5;-webkit-text-stroke:0.82px #000;">18°</div>
<div class="t" style="left:999.96px;top:1195.99px;font-size:18.01px;font-weight:bold;font-family:'Liberation Sans','DejaVu Sans',sans-serif;color:#000;transform-origin:0 0;transform:scaleX(0.9730);opacity:0.5;-webkit-text-stroke:0.54px #000;">NOV</div>
<div class="t" style="left:998.60px;top:1247.99px;font-size:27.29px;font-weight:bold;font-family:'Liberation Sans','DejaVu Sans',sans-serif;color:#000;opacity:0.5;-webkit-text-stroke:0.82px #000;">12°</div>
<div class="t" style="left:1097.35px;top:1195.99px;font-size:18.01px;font-weight:bold;font-family:'Liberation Sans','DejaVu Sans',sans-serif;color:#000;transform-origin:0 0;transform:scaleX(0.9768);opacity:0.5;-webkit-text-stroke:0.54px #000;">DIC</div>
<div class="t" style="left:1099.79px;top:1247.99px;font-size:27.29px;font-weight:bold;font-family:'Liberation Sans','DejaVu Sans',sans-serif;color:#000;opacity:0.5;-webkit-text-stroke:0.82px #000;">7°</div>
<svg class="abs" style="left:0;top:1334px" width="1200" height="170" viewBox="0 1334 1200 170"><path d="M90,1344 H1140 A20,20 0 0 1 1160,1364 V1443 A20,20 0 0 1 1140,1463 H90 Z" fill="#b1dcfd"/><path d="M40,1486 V1364 A20,20 0 0 1 60,1344 H96 V1463 H69 A29,23 0 0 0 40,1486 Z" fill="#2d9cdb"/><g fill="none" stroke="#005c9e" stroke-width="2.4" stroke-linecap="round" stroke-linejoin="round"><path fill="#fff" d="M95,1346.2 Q100.5,1361 116.3,1368 Q124.5,1384 142,1393.3 Q148.5,1408.5 163.3,1414.7 C150,1426.5 137,1429.3 128,1429 C115,1428.5 103,1423.5 95,1415 C86,1404 81.3,1393 81.2,1380 C81.2,1367 86,1355.5 95,1346.2 Z"/><path d="M116,1368.5 Q103.5,1381 97.5,1393.5"/><path d="M95.5,1401 Q94.3,1408 95,1414"/><path d="M95.5,1415.5 Q113,1417.5 128.5,1405.5"/><path d="M134,1400.5 L141.5,1394"/><path d="M88.2,1373 Q86.8,1380.5 88.2,1388"/><path d="M133.5,1422.3 Q140,1421.3 145.8,1419"/><path d="M95,1415 L61.5,1448.5 C57,1453 58,1459.5 63.5,1460.5 C67.5,1461.2 70.5,1458.5 73,1455.3"/></g></svg><div class="t" id="prec_title" style="left:434.88px;top:1382.07px;font-size:42.29px;font-weight:bold;font-family:'Liberation Sans','DejaVu Sans',sans-serif;color:#005c9e;transform-origin:0 0;transform:scaleX(0.9849);-webkit-text-stroke:1.27px #005c9e;">PRECIPITAZIONI</div>
<svg class="abs" style="left:0;top:1495px" width="760" height="370" viewBox="0 1495 760 370"><g stroke="#abc8e1" stroke-width="1" fill="none" shape-rendering="crispEdges"><path d="M115.5,1738.5 H730.5"/><path d="M115.5,1692.5 H730.5"/><path d="M115.5,1646.5 H730.5"/><path d="M115.5,1601.5 H730.5"/><path d="M115.5,1555.5 H730.5"/><path d="M115.5,1509.5 H730.5"/><path d="M166.5,1509.4 V1784.4"/><path d="M218.5,1509.4 V1784.4"/><path d="M269.5,1509.4 V1784.4"/><path d="M320.5,1509.4 V1784.4"/><path d="M371.5,1509.4 V1784.4"/><path d="M423.5,1509.4 V1784.4"/><path d="M474.5,1509.4 V1784.4"/><path d="M525.5,1509.4 V1784.4"/><path d="M576.5,1509.4 V1784.4"/><path d="M628.5,1509.4 V1784.4"/><path d="M679.5,1509.4 V1784.4"/></g><g fill="#005c9e"><rect x="130.8" y="1732.2" width="22" height="52.2"/><rect x="182.1" y="1701.9" width="22" height="82.5"/><rect x="233.3" y="1666.2" width="22" height="118.2"/><rect x="284.6" y="1657.0" width="22" height="127.4"/><rect x="335.8" y="1644.2" width="22" height="140.2"/><rect x="387.1" y="1586.4" width="22" height="198.0"/><rect x="438.3" y="1589.2" width="22" height="195.2"/><rect x="489.6" y="1646.0" width="22" height="138.4"/><rect x="540.8" y="1579.1" width="22" height="205.3"/><rect x="592.1" y="1548.8" width="22" height="235.6"/><rect x="643.3" y="1680.8" width="22" height="103.6"/><rect x="694.6" y="1719.3" width="22" height="65.1"/></g><g stroke="#1b64a3" stroke-width="1" fill="none" shape-rendering="crispEdges"><path d="M115.5,1508.9 V1784.4 H730.5"/><path d="M110.0,1784.5 H115.5"/><path d="M110.0,1738.5 H115.5"/><path d="M110.0,1692.5 H115.5"/><path d="M110.0,1646.5 H115.5"/><path d="M110.0,1601.5 H115.5"/><path d="M110.0,1555.5 H115.5"/><path d="M110.0,1509.5 H115.5"/></g><text class="ax" x="104.8" y="1788.4" font-size="10.2" text-anchor="end">0 mm</text><text class="ax" x="104.8" y="1742.6" font-size="10.2" text-anchor="end">50 mm</text><text class="ax" x="104.8" y="1696.7" font-size="10.2" text-anchor="end">100 mm</text><text class="ax" x="104.8" y="1650.9" font-size="10.2" text-anchor="end">150 mm</text><text class="ax" x="104.8" y="1605.1" font-size="10.2" text-anchor="end">200 mm</text><text class="ax" x="104.8" y="1559.2" font-size="10.2" text-anchor="end">250 mm</text><text class="ax" x="104.8" y="1513.4" font-size="10.2" text-anchor="end">300 mm</text><text class="ax" x="139.6" y="1805" font-size="12.3" text-anchor="middle">Gen</text><text class="ax" x="190.9" y="1805" font-size="12.3" text-anchor="middle">Feb</text><text class="ax" x="242.1" y="1805" font-size="12.3" text-anchor="middle">Mar</text><text class="ax" x="293.4" y="1805" font-size="12.3" text-anchor="middle">Apr</text><text class="ax" x="344.6" y="1805" font-size="12.3" text-anchor="middle">Mag</text><text class="ax" x="395.9" y="1805" font-size="12.3" text-anchor="middle">Giu</text><text class="ax" x="447.1" y="1805" font-size="12.3" text-anchor="middle">Lug</text><text class="ax" x="498.4" y="1805" font-size="12.3" text-anchor="middle">Ago</text><text class="ax" x="549.6" y="1805" font-size="12.3" text-anchor="middle">Set</text><text class="ax" x="600.9" y="1805" font-size="12.3" text-anchor="middle">Ott</text><text class="ax" x="652.1" y="1805" font-size="12.3" text-anchor="middle">Nov</text><text class="ax" x="703.4" y="1805" font-size="12.3" text-anchor="middle">Dic</text><text class="ax" x="0" y="0" font-size="13" text-anchor="middle" transform="translate(49.8,1648) rotate(-90)">Precipitazioni</text><rect x="316" y="1835" width="8" height="8" fill="#005c9e"/><text class="ax" x="331.7" y="1843.3" font-size="12.6">Totale precipitazioni</text></svg>
<div class="body" id="prec_b" style="left:785px;top:1505.73px;font-size:17.45px;line-height:23.67px;">La media annuale delle precipitazioni a<br>Kawasaki è di circa 1808 mm. La<br>differenza tra il mese con la massima<br>precipitazione (ottobre) e quello con la<br>minima (gennaio) è di 199 mm.<br><br>Le precipitazioni più intense si verificano<br>ad ottobre, con una quantità mensile di<br>256 mm e una probabilità di<br>precipitazioni di circa il 37%. Al<br>contrario, le precipitazioni più basse si<br>registrano a gennaio, con una media di<br>57 mm e una probabilità dell'14%.</div>
<div class="abs" id="prob" style="left:37.3px;top:1870px;width:702.7px;height:150.7px;border-radius:6px;overflow:hidden;background:#b1dcfd;"><div class="abs" style="left:0;top:0;width:100%;height:30.7px;background:#2d9cdb;"></div></div>
<div class="t" id="prob_t" style="left:259.79px;top:1878.52px;font-size:15.42px;font-weight:bold;font-family:'Liberation Sans','DejaVu Sans',sans-serif;color:#fff;transform-origin:0 0;transform:scaleX(1.0273);-webkit-text-stroke:0.46px #fff;">PROBABILITÀ DI PRECIPITAZIONI</div>
<svg class="abs" style="left:0;top:1905px" width="760" height="100" viewBox="0 1905 760 100"><path fill="#2d9cdb" d="M66.6,1915.0 C69.6,1924.0 82.4,1939.4 88.4,1953.4 A25.1,25.1 0 1 1 44.8,1953.4 C50.8,1939.4 63.6,1924.0 66.6,1915.0 Z"/><path fill="#005c9e" d="M125.1,1915.0 C128.1,1924.0 140.9,1939.4 146.9,1953.4 A25.1,25.1 0 1 1 103.3,1953.4 C109.3,1939.4 122.1,1924.0 125.1,1915.0 Z"/><path fill="#005c9e" d="M183.6,1915.0 C186.6,1924.0 199.4,1939.4 205.4,1953.4 A25.1,25.1 0 1 1 161.8,1953.4 C167.8,1939.4 180.6,1924.0 183.6,1915.0 Z"/><path fill="#005c9e" d="M242.1,1915.0 C245.1,1924.0 257.9,1939.4 263.9,1953.4 A25.1,25.1 0 1 1 220.3,1953.4 C226.3,1939.4 239.1,1924.0 242.1,1915.0 Z"/><path fill="#005c9e" d="M300.6,1915.0 C303.6,1924.0 316.4,1939.4 322.4,1953.4 A25.1,25.1 0 1 1 278.8,1953.4 C284.8,1939.4 297.6,1924.0 300.6,1915.0 Z"/><path fill="#005c9e" d="M359.1,1915.0 C362.1,1924.0 374.9,1939.4 380.9,1953.4 A25.1,25.1 0 1 1 337.3,1953.4 C343.3,1939.4 356.1,1924.0 359.1,1915.0 Z"/><path fill="#005c9e" d="M417.6,1915.0 C420.6,1924.0 433.4,1939.4 439.4,1953.4 A25.1,25.1 0 1 1 395.8,1953.4 C401.8,1939.4 414.6,1924.0 417.6,1915.0 Z"/><path fill="#005c9e" d="M476.1,1915.0 C479.1,1924.0 491.9,1939.4 497.9,1953.4 A25.1,25.1 0 1 1 454.3,1953.4 C460.3,1939.4 473.1,1924.0 476.1,1915.0 Z"/><path fill="#005c9e" d="M534.6,1915.0 C537.6,1924.0 550.4,1939.4 556.4,1953.4 A25.1,25.1 0 1 1 512.8,1953.4 C518.8,1939.4 531.6,1924.0 534.6,1915.0 Z"/><path fill="#005c9e" d="M593.1,1915.0 C596.1,1924.0 608.9,1939.4 614.9,1953.4 A25.1,25.1 0 1 1 571.3,1953.4 C577.3,1939.4 590.1,1924.0 593.1,1915.0 Z"/><path fill="#005c9e" d="M651.6,1915.0 C654.6,1924.0 667.4,1939.4 673.4,1953.4 A25.1,25.1 0 1 1 629.8,1953.4 C635.8,1939.4 648.6,1924.0 651.6,1915.0 Z"/><path fill="#2d9cdb" d="M710.1,1915.0 C713.1,1924.0 725.9,1939.4 731.9,1953.4 A25.1,25.1 0 1 1 688.3,1953.4 C694.3,1939.4 707.1,1924.0 710.1,1915.0 Z"/></svg>
<div class="t" style="left:47.73px;top:1958.79px;font-size:17.19px;font-weight:bold;font-family:'Liberation Sans','DejaVu Sans',sans-serif;color:#fff;transform-origin:0 0;transform:scaleX(1.0578);-webkit-text-stroke:0.52px #fff;">14%</div>
<div class="t" style="left:53.68px;top:1998.69px;font-size:12.55px;font-weight:bold;font-family:'Liberation Sans','DejaVu Sans',sans-serif;color:#005c9e;transform-origin:0 0;transform:scaleX(0.9006);-webkit-text-stroke:0.38px #005c9e;">GEN</div>
<div class="t" style="left:106.78px;top:1958.79px;font-size:17.19px;font-weight:bold;font-family:'Liberation Sans','DejaVu Sans',sans-serif;color:#fff;transform-origin:0 0;transform:scaleX(1.0418);-webkit-text-stroke:0.52px #fff;">27%</div>
<div class="t" style="left:112.77px;top:1998.69px;font-size:12.55px;font-weight:bold;font-family:'Liberation Sans','DejaVu Sans',sans-serif;color:#005c9e;transform-origin:0 0;transform:scaleX(0.9103);-webkit-text-stroke:0.38px #005c9e;">FEB</div>
<div class="t" style="left:165.46px;top:1958.79px;font-size:17.19px;font-weight:bold;font-family:'Liberation Sans','DejaVu Sans',sans-serif;color:#fff;transform-origin:0 0;transform:scaleX(1.0366);-webkit-text-stroke:0.52px #fff;">34%</div>
<div class="t" style="left:169.55px;top:1998.69px;font-size:12.55px;font-weight:bold;font-family:'Liberation Sans','DejaVu Sans',sans-serif;color:#005c9e;transform-origin:0 0;transform:scaleX(0.9084);-webkit-text-stroke:0.38px #005c9e;">MAR</div>
<div class="t" style="left:223.96px;top:1958.79px;font-size:17.19px;font-weight:bold;font-family:'Liberation Sans','DejaVu Sans',sans-serif;color:#fff;transform-origin:0 0;transform:scaleX(1.0366);-webkit-text-stroke:0.52px #fff;">35%</div>
<div class="t" style="left:229.44px;top:1998.69px;font-size:12.55px;font-weight:bold;font-family:'Liberation Sans','DejaVu Sans',sans-serif;color:#005c9e;transform-origin:0 0;transform:scaleX(0.8921);-webkit-text-stroke:0.38px #005c9e;">APR</div>
<div class="t" style="left:282.46px;top:1958.79px;font-size:17.19px;font-weight:bold;font-family:'Liberation Sans','DejaVu Sans',sans-serif;color:#fff;transform-origin:0 0;transform:scaleX(1.0366);-webkit-text-stroke:0.52px #fff;">33%</div>
<div class="t" style="left:286.49px;top:1998.69px;font-size:12.55px;font-weight:bold;font-family:'Liberation Sans','DejaVu Sans',sans-serif;color:#005c9e;transform-origin:0 0;transform:scaleX(0.9083);-webkit-text-stroke:0.38px #005c9e;">MAG</div>
<div class="t" style="left:341.14px;top:1958.79px;font-size:17.19px;font-weight:bold;font-family:'Liberation Sans','DejaVu Sans',sans-serif;color:#fff;transform-origin:0 0;transform:scaleX(1.0314);-webkit-text-stroke:0.52px #fff;">47%</div>
<div class="t" style="left:348.31px;top:1998.69px;font-size:12.55px;font-weight:bold;font-family:'Liberation Sans','DejaVu Sans',sans-serif;color:#005c9e;transform-origin:0 0;transform:scaleX(0.9016);-webkit-text-stroke:0.38px #005c9e;">GIU</div>
<div class="t" style="left:399.64px;top:1958.79px;font-size:17.19px;font-weight:bold;font-family:'Liberation Sans','DejaVu Sans',sans-serif;color:#fff;transform-origin:0 0;transform:scaleX(1.0314);-webkit-text-stroke:0.52px #fff;">46%</div>
<div class="t" style="left:404.74px;top:1998.69px;font-size:12.55px;font-weight:bold;font-family:'Liberation Sans','DejaVu Sans',sans-serif;color:#005c9e;transform-origin:0 0;transform:scaleX(0.9096);-webkit-text-stroke:0.38px #005c9e;">LUG</div>
<div class="t" style="left:457.96px;top:1958.79px;font-size:17.19px;font-weight:bold;font-family:'Liberation Sans','DejaVu Sans',sans-serif;color:#fff;transform-origin:0 0;transform:scaleX(1.0366);-webkit-text-stroke:0.52px #fff;">37%</div>
<div class="t" style="left:462.64px;top:1998.69px;font-size:12.55px;font-weight:bold;font-family:'Liberation Sans','DejaVu Sans',sans-serif;color:#005c9e;transform-origin:0 0;transform:scaleX(0.8923);-webkit-text-stroke:0.38px #005c9e;">AGO</div>
<div class="t" style="left:516.64px;top:1958.79px;font-size:17.19px;font-weight:bold;font-family:'Liberation Sans','DejaVu Sans',sans-serif;color:#fff;transform-origin:0 0;transform:scaleX(1.0314);-webkit-text-stroke:0.52px #fff;">45%</div>
<div class="t" style="left:522.81px;top:1998.69px;font-size:12.55px;font-weight:bold;font-family:'Liberation Sans','DejaVu Sans',sans-serif;color:#005c9e;transform-origin:0 0;transform:scaleX(0.8917);-webkit-text-stroke:0.38px #005c9e;">SET</div>
<div class="t" style="left:574.96px;top:1958.79px;font-size:17.19px;font-weight:bold;font-family:'Liberation Sans','DejaVu Sans',sans-serif;color:#fff;transform-origin:0 0;transform:scaleX(1.0366);-webkit-text-stroke:0.52px #fff;">37%</div>
<div class="t" style="left:580.77px;top:1998.69px;font-size:12.55px;font-weight:bold;font-family:'Liberation Sans','DejaVu Sans',sans-serif;color:#005c9e;transform-origin:0 0;transform:scaleX(0.9008);-webkit-text-stroke:0.38px #005c9e;">OTT</div>
<div class="t" style="left:633.46px;top:1958.79px;font-size:17.19px;font-weight:bold;font-family:'Liberation Sans','DejaVu Sans',sans-serif;color:#fff;transform-origin:0 0;transform:scaleX(1.0366);-webkit-text-stroke:0.52px #fff;">31%</div>
<div class="t" style="left:638.08px;top:1998.69px;font-size:12.55px;font-weight:bold;font-family:'Liberation Sans','DejaVu Sans',sans-serif;color:#005c9e;transform-origin:0 0;transform:scaleX(0.9089);-webkit-text-stroke:0.38px #005c9e;">NOV</div>
<div class="t" style="left:691.78px;top:1958.79px;font-size:17.19px;font-weight:bold;font-family:'Liberation Sans','DejaVu Sans',sans-serif;color:#fff;transform-origin:0 0;transform:scaleX(1.0418);-webkit-text-stroke:0.52px #fff;">21%</div>
<div class="t" style="left:699.22px;top:1998.69px;font-size:12.55px;font-weight:bold;font-family:'Liberation Sans','DejaVu Sans',sans-serif;color:#005c9e;transform-origin:0 0;transform:scaleX(0.9124);-webkit-text-stroke:0.38px #005c9e;">DIC</div>
<div class="t" id="ppt" style="left:784.17px;top:1937.25px;font-size:19.10px;font-weight:bold;font-family:'Liberation Sans','DejaVu Sans',sans-serif;color:#005c9e;transform-origin:0 0;transform:scaleX(0.9691);-webkit-text-stroke:0.57px #005c9e;">PRECIPITAZIONI PER TIPO</div>
<div class="body" id="ppt_b" style="left:785px;top:1967.31px;font-size:17.45px;line-height:28.5px;"><span class="bu">•</span>Pioggia: 98%<br><span class="bu">•</span>Neve: 2%</div>
<div class="abs" style="left:0;top:2083px;width:1200px;height:57px;background:#005c9e;"></div>
<svg class="abs" style="left:30px;top:2085px" width="160" height="55" viewBox="30 2085 160 55"><g fill="none" stroke="#b1dcfd" stroke-width="3.5"><circle cx="58.1" cy="2111.25" r="16.6"/><circle cx="106.4" cy="2111.25" r="16.6"/><circle cx="154.7" cy="2111.25" r="16.6"/></g><g fill="#b1dcfd"><circle cx="106.3" cy="2102" r="2.6"/><path d="M101.3,2106.2 H111.4 V2114.4 H109.1 V2123 H103.7 V2114.4 H101.3 Z"/></g><g fill="#b1dcfd"><rect x="148.1" y="2107.2" width="13.8" height="3.1"/><rect x="148.1" y="2113.0" width="13.8" height="3.1"/></g><text x="57.9" y="2116.9" text-anchor="middle" font-family="'Liberation Sans','DejaVu Sans',sans-serif" font-weight="bold" font-size="16.2" fill="#b1dcfd" stroke="#b1dcfd" stroke-width="0.5" letter-spacing="-1.9">CC</text></svg>
<div class="t" id="site" style="left:988.04px;top:2101.54px;font-size:20.74px;font-weight:bold;font-family:'Liberation Sans','DejaVu Sans',sans-serif;color:#fff;transform-origin:0 0;transform:scaleX(1.0251);-webkit-text-stroke:0.62px #fff;">METEOATLAS.IT</div>
<div class="t" id="lic" style="left:185.08px;top:2105.12px;font-size:14.99px;font-weight:bold;font-family:'DejaVu Sans','Liberation Sans',sans-serif;color:#b1dcfd;transform-origin:0 0;transform:scaleX(1.0412);">CC BY-ND 4.0</div>
</div>
</body>
</html>
